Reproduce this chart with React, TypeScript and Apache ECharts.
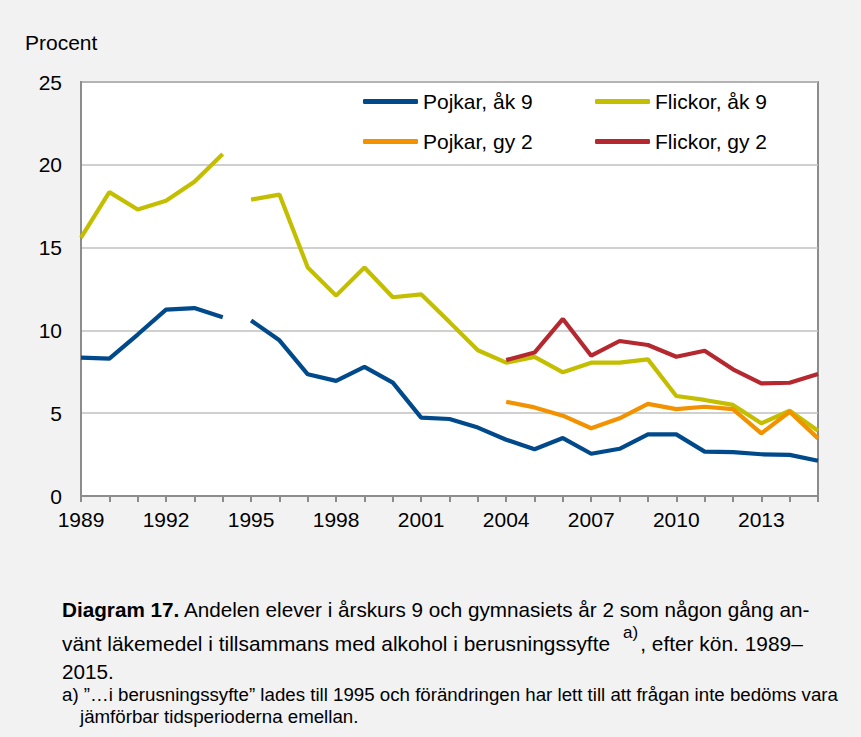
import React, { useEffect, useRef } from "react";
import * as echarts from "echarts";

const years = [
  "1989", "1990", "1991", "1992", "1993", "1994", "1995", "1996", "1997",
  "1998", "1999", "2000", "2001", "2002", "2003", "2004", "2005", "2006",
  "2007", "2008", "2009", "2010", "2011", "2012", "2013", "2014", "2015",
];

// 1989–1994
const pojkarAk9Early = [8.35, 8.3, 9.75, 11.25, 11.35, 10.8];
const flickorAk9Early = [15.6, 18.35, 17.3, 17.83, 18.98, 20.65];
// 1995–2015
const pojkarAk9Late = [
  10.6, 9.4, 7.35, 6.95, 7.8, 6.85, 4.73, 4.65, 4.13, 3.4, 2.82, 3.5, 2.55,
  2.85, 3.72, 3.72, 2.68, 2.65, 2.52, 2.48, 2.13,
];
const flickorAk9Late = [
  17.9, 18.2, 13.8, 12.1, 13.8, 12.0, 12.18, 10.5, 8.8, 8.05, 8.4, 7.47, 8.05,
  8.05, 8.25, 6.04, 5.8, 5.5, 4.39, 5.15, 3.94,
];
// 2004–2015
const pojkarGy2 = [5.69, 5.35, 4.85, 4.09, 4.69, 5.56, 5.25, 5.39, 5.25, 3.78, 5.09, 3.48];
const flickorGy2 = [8.21, 8.66, 10.69, 8.47, 9.36, 9.12, 8.41, 8.77, 7.65, 6.8, 6.84, 7.37];

const yTicks = { min: 0, max: 25, interval: 5 };

const names = ["Pojkar, åk 9", "Flickor, åk 9", "Pojkar, gy 2", "Flickor, gy 2"];
const colors = ["#004a8c", "#c3bf00", "#f39200", "#b5282f"];

const FONT = "'Liberation Sans', Arial, sans-serif";
const CHART_FS = 21;
const CAP_FS = 20.7;
const CAP2_FS = 20.9;
const NOTE_FS = 18.7;

function placeAt(values: number[], startYear: string): (number | null)[] {
  const start = years.indexOf(startYear);
  return years.map((_, i) => {
    const k = i - start;
    return k >= 0 && k < values.length ? values[k] : null;
  });
}

export default function App() {
  const ref = useRef<HTMLDivElement>(null);
  useEffect(() => {
    if (!ref.current) return;
    const chart = echarts.init(ref.current, undefined, { renderer: "svg" });

    const lineSeries = (name: string, color: string, data: (number | null)[]) => ({
      type: "line",
      name,
      data,
      showSymbol: false,
      symbol: "none",
      lineStyle: { color, width: 4.2 },
      itemStyle: { color },
      emphasis: { disabled: true },
    });

    const legendItem = (i: number, left: number, top: number) => ({
      left,
      top,
      padding: 0,
      orient: "horizontal",
      icon: "roundRect",
      itemWidth: 55,
      itemHeight: 5,
      itemGap: 0,
      selectedMode: false,
      data: [names[i]],
      textStyle: { fontSize: CHART_FS, color: "#000", fontFamily: FONT },
    });

    chart.setOption({
      animation: false,
      backgroundColor: "#f2f2f2",
      textStyle: { fontFamily: FONT },
      grid: {
        left: 81,
        right: 43,
        top: 82,
        bottom: 241,
        show: true,
        backgroundColor: "#ffffff",
        borderColor: "#8c8c8c",
        borderWidth: 2,
      },
      legend: [
        legendItem(0, 363, 91),
        legendItem(1, 595, 91),
        legendItem(2, 363, 131),
        legendItem(3, 595, 131),
      ],
      xAxis: {
        type: "category",
        data: years,
        boundaryGap: false,
        axisLine: { lineStyle: { color: "#8c8c8c", width: 2 } },
        axisTick: { show: true, interval: 0, length: 6, lineStyle: { color: "#8c8c8c", width: 2 } },
        axisLabel: { interval: 2, fontSize: CHART_FS, color: "#000", margin: 13, fontFamily: FONT },
        splitLine: { show: false },
      },
      yAxis: {
        type: "value",
        min: yTicks.min,
        max: yTicks.max,
        interval: yTicks.interval,
        axisLine: { show: true, lineStyle: { color: "#8c8c8c", width: 2 } },
        axisTick: { show: false },
        axisLabel: { fontSize: CHART_FS, color: "#000", margin: 19, fontFamily: FONT },
        splitLine: { lineStyle: { color: "#c0c0c0", width: 1.5 } },
      },
      series: [
        lineSeries(names[0], colors[0], placeAt(pojkarAk9Early, "1989")),
        lineSeries(names[0], colors[0], placeAt(pojkarAk9Late, "1995")),
        lineSeries(names[1], colors[1], placeAt(flickorAk9Early, "1989")),
        lineSeries(names[1], colors[1], placeAt(flickorAk9Late, "1995")),
        lineSeries(names[2], colors[2], placeAt(pojkarGy2, "2004")),
        lineSeries(names[3], colors[3], placeAt(flickorGy2, "2004")),
      ],
      graphic: [
        {
          type: "text",
          x: 25,
          y: 42,
          style: { text: "Procent", fontSize: CHART_FS, fontFamily: FONT, fill: "#000", verticalAlign: "middle" },
        },
        {
          type: "text",
          x: 62,
          y: 609,
          style: {
            text: "{b|Diagram 17.} Andelen elever i årskurs 9 och gymnasiets år 2 som någon gång an-",
            fontSize: CAP_FS,
            fontFamily: FONT,
            fill: "#000",
            verticalAlign: "middle",
            rich: { b: { fontWeight: "bold", fontSize: CAP_FS, fontFamily: FONT, fill: "#000" } },
          },
        },
        {
          type: "text",
          x: 62,
          y: 639,
          style: {
            text: "{n|vänt läkemedel i tillsammans med alkohol i berusningssyfte}{s|a)}{n|, efter kön. 1989–}",
            fontSize: CAP2_FS,
            fontFamily: FONT,
            fill: "#000",
            verticalAlign: "middle",
            rich: {
              n: { fontSize: CAP2_FS, fontFamily: FONT, fill: "#000", lineHeight: 30, verticalAlign: "bottom" },
              s: {
                fontSize: 17,
                fontFamily: FONT,
                fill: "#000",
                lineHeight: 26,
                verticalAlign: "top",
                padding: [0, 2, 0, 13],
              },
            },
          },
        },
        {
          type: "text",
          x: 62,
          y: 671,
          style: { text: "2015.", fontSize: CAP_FS, fontFamily: FONT, fill: "#000", verticalAlign: "middle" },
        },
        {
          type: "text",
          x: 62,
          y: 694,
          style: {
            text: "a) ”…i berusningssyfte” lades till 1995 och förändringen har lett till att frågan inte bedöms vara",
            fontSize: NOTE_FS,
            fontFamily: FONT,
            fill: "#000",
            verticalAlign: "middle",
          },
        },
        {
          type: "text",
          x: 80,
          y: 716,
          style: {
            text: "jämförbar tidsperioderna emellan.",
            fontSize: NOTE_FS,
            fontFamily: FONT,
            fill: "#000",
            verticalAlign: "middle",
          },
        },
      ],
    });
    return () => chart.dispose();
  }, []);
  return (
    <div
      ref={ref}
      style={{ position: "absolute", left: 0, top: 0, width: 861, height: 737 }}
    />
  );
}
